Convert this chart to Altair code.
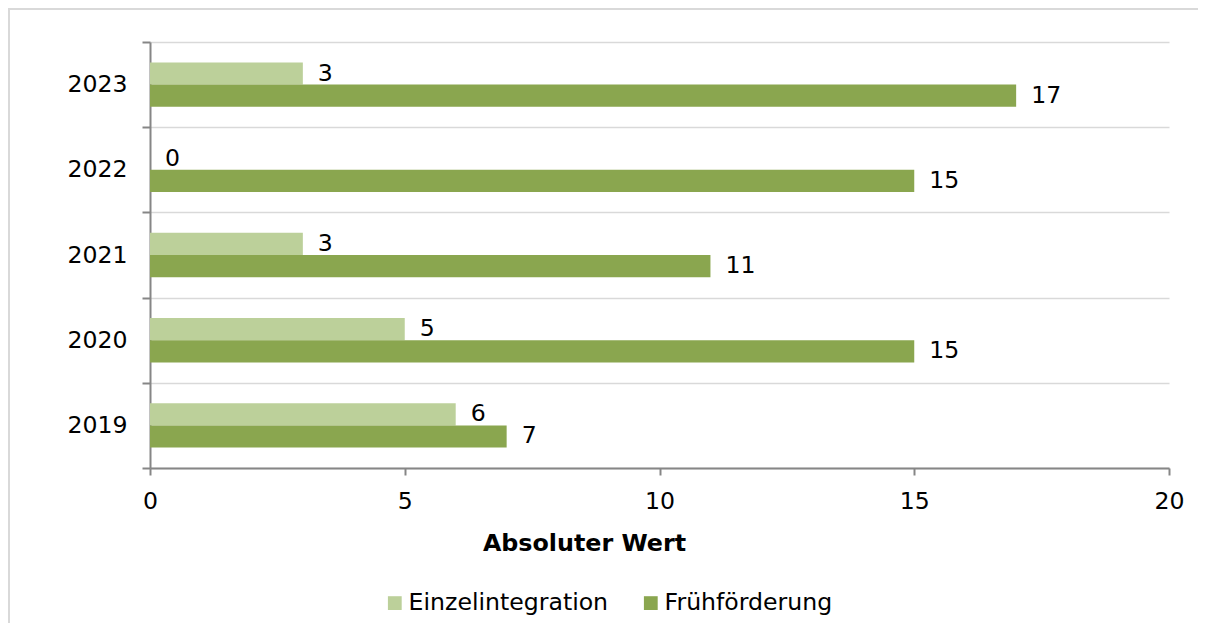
import altair as alt
import pandas as pd

years = ["2019", "2020", "2021", "2022", "2023"]
einzel = [6, 5, 3, 0, 3]
frueh = [7, 15, 11, 15, 17]
series = ["Einzelintegration", "Frühförderung"]
colors = ["#bcd09a", "#8aa64f"]
x_ticks = [0, 5, 10, 15, 20]

rows = []
for y, a, b in zip(years, einzel, frueh):
    rows.append({"Jahr": y, "Reihe": series[0], "Wert": a})
    rows.append({"Jahr": y, "Reihe": series[1], "Wert": b})
df = pd.DataFrame(rows)

FONT = "DejaVu Sans"
FS = 23.6

base = alt.Chart(df)

y_enc = alt.Y(
    "Jahr:N",
    sort=list(reversed(years)),
    scale=alt.Scale(paddingInner=0, paddingOuter=0),
    axis=alt.Axis(
        title=None,
        tickBand="extent",
        grid=True,
        gridColor="#d9d9d9",
        gridWidth=1.5,
        domainColor="#868686",
        domainWidth=2,
        tickColor="#868686",
        tickWidth=2,
        tickSize=8,
        labelPadding=15,
        labelFont=FONT,
        labelFontSize=FS,
        labelColor="#000000",
    ),
)
yoff_enc = alt.YOffset(
    "Reihe:N", sort=series, scale=alt.Scale(paddingOuter=0.919, paddingInner=0)
)

bars = base.mark_bar().encode(
    x=alt.X(
        "Wert:Q",
        scale=alt.Scale(domain=[0, 20], nice=False),
        axis=alt.Axis(
            title="Absoluter Wert",
            values=x_ticks,
            grid=False,
            domainColor="#868686",
            domainWidth=2,
            tickColor="#868686",
            tickWidth=2,
            tickSize=7,
            labelFlush=False,
            labelFont=FONT,
            labelFontSize=FS,
            labelColor="#000000",
            labelBaseline="alphabetic",
            labelPadding=33,
            titleFont=FONT,
            titleFontSize=23.8,
            titleFontWeight="bold",
            titleColor="#000000",
            titleX=434,
            titleY=82,
            titleAlign="center",
            titleBaseline="alphabetic",
        ),
    ),
    y=y_enc,
    yOffset=yoff_enc,
    color=alt.Color(
        "Reihe:N",
        sort=series,
        scale=alt.Scale(domain=series, range=colors),
        legend=alt.Legend(
            title=None,
            orient="none",
            direction="horizontal",
            legendX=233,
            legendY=549,
            symbolType="square",
            symbolSize=190,
            symbolStrokeWidth=0,
            symbolOpacity=1,
            labelFont=FONT,
            labelFontSize=FS,
            labelColor="#000000",
            labelOffset=2,
            labelLimit=0,
            columnPadding=30,
            padding=0,
        ),
    ),
)

labels = base.mark_text(
    align="left", baseline="middle", dx=15, font=FONT, fontSize=FS, color="#000000"
).encode(
    x=alt.X("Wert:Q"),
    y=alt.Y("Jahr:N", sort=list(reversed(years))),
    yOffset=yoff_enc,
    text=alt.Text("Wert:Q"),
)

border_left = base.mark_rule(color="#d9d9d9", strokeWidth=2).encode(
    x=alt.value(-141), y=alt.value(-34), y2=alt.value(600)
)
border_top = base.mark_rule(color="#d9d9d9", strokeWidth=2).encode(
    x=alt.value(-141), x2=alt.value(1048), y=alt.value(-33)
)

chart = (
    alt.layer(border_left, border_top, bars, labels)
    .properties(
        width=1019,
        height=426,
        autosize=alt.AutoSizeParams(type="none"),
        padding={"left": 142, "top": 34, "right": 29, "bottom": 155},
        background="#ffffff",
    )
    .configure_view(stroke=None)
)

chart.save("out.html", embed_options={"renderer": "svg", "actions": False})
